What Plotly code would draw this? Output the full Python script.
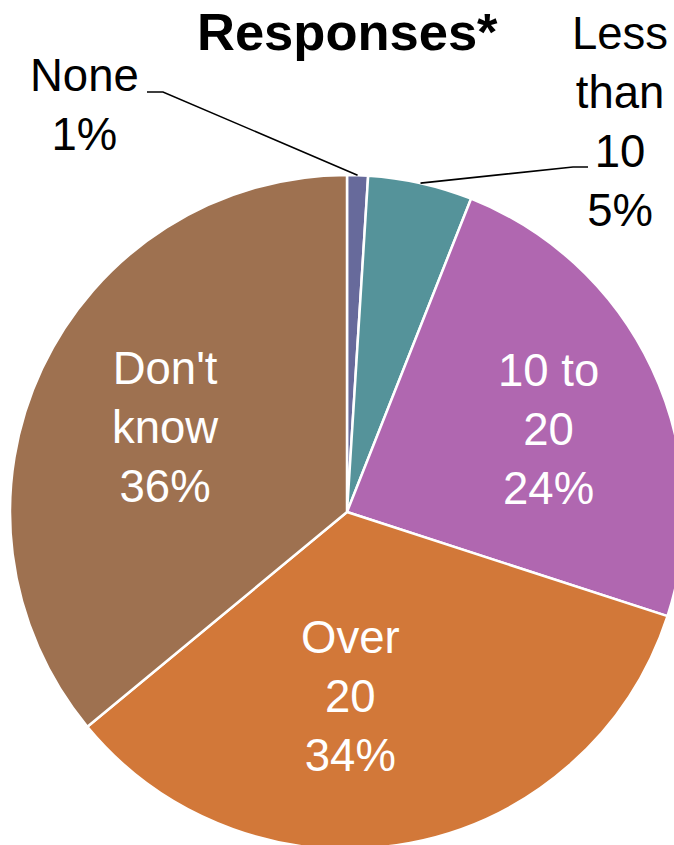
import math
import plotly.graph_objects as go

# ---- data ----
categories = ["None", "Less than 10", "10 to 20", "Over 20", "Don't know"]
label_lines = ["None", "Less<br>than<br>10", "10 to<br>20", "Over<br>20", "Don't<br>know"]
values = [1, 5, 24, 34, 36]
colors = ["#676A9B", "#55939A", "#B067B0", "#D27839", "#9E7150"]
title_text = "<b>Responses*</b>"

# ---- layout geometry (pixels) ----
W, H = 684, 850
CX, CY, R = 347, 512, 337
FONT = "Liberation Sans, Arial, sans-serif"
FS = 45.5


def px(x, y):
    return x / W, 1 - y / H


fig = go.Figure(
    go.Pie(
        labels=categories,
        values=values,
        sort=False,
        direction="clockwise",
        rotation=0,
        marker=dict(colors=colors, line=dict(color="white", width=2.5)),
        textinfo="none",
        hoverinfo="label+percent",
        domain=dict(x=[(CX - R) / W, min(1.0, (CX + R) / W)],
                    y=[(H - CY - R) / H, (H - CY + R) / H]),
        showlegend=False,
    )
)

total = sum(values)


def pct_text(i):
    return f"{label_lines[i]}<br>{round(values[i] / total * 100)}%"


# label placement (pixel centres) and colour
label_pos = {
    0: (84, 105, "black"),
    1: (620, 122, "black"),
    2: (548, 429, "white"),
    3: (350, 696, "white"),
    4: (165, 427, "white"),
}

annotations = []
for i, (x, y, c) in label_pos.items():
    ax, ay = px(x, y)
    annotations.append(dict(
        x=ax, y=ay, xref="paper", yref="paper", text=pct_text(i),
        showarrow=False, xanchor="center", yanchor="middle",
        font=dict(family=FONT, size=FS, color=c), align="center",
    ))

tx, ty = px(347, 32)
annotations.append(dict(
    x=tx, y=ty, xref="paper", yref="paper", text=title_text, showarrow=False,
    xanchor="center", yanchor="middle",
    font=dict(family=FONT, size=52.5, color="black"),
))


# leader lines from slice mid-angle on the rim to the outside labels
def rim_point(i):
    cum = sum(values[:i]) + values[i] / 2
    ang = cum / total * 2 * math.pi
    return CX + R * math.sin(ang), CY - R * math.cos(ang)


def path(points):
    s = ""
    for k, (x, y) in enumerate(points):
        a, b = px(x, y)
        s += ("M" if k == 0 else "L") + f" {a:.5f} {b:.5f} "
    return s


p0 = rim_point(0)
p1 = rim_point(1)
shapes = [
    dict(type="path", xref="paper", yref="paper",
         path=path([(147, 92), (163, 92), p0]),
         line=dict(color="black", width=1.6)),
    dict(type="path", xref="paper", yref="paper",
         path=path([p1, (573, 167), (588, 167)]),
         line=dict(color="black", width=1.6)),
]

fig.update_layout(
    width=W, height=H,
    margin=dict(l=0, r=0, t=0, b=0, pad=0),
    paper_bgcolor="white", plot_bgcolor="white",
    annotations=annotations, shapes=shapes,
)

fig.write_html(
    "out.html",
    config={"displayModeBar": False},
    post_script="document.body.style.margin='0';document.body.style.overflow='hidden';document.documentElement.style.overflow='hidden';",
)
